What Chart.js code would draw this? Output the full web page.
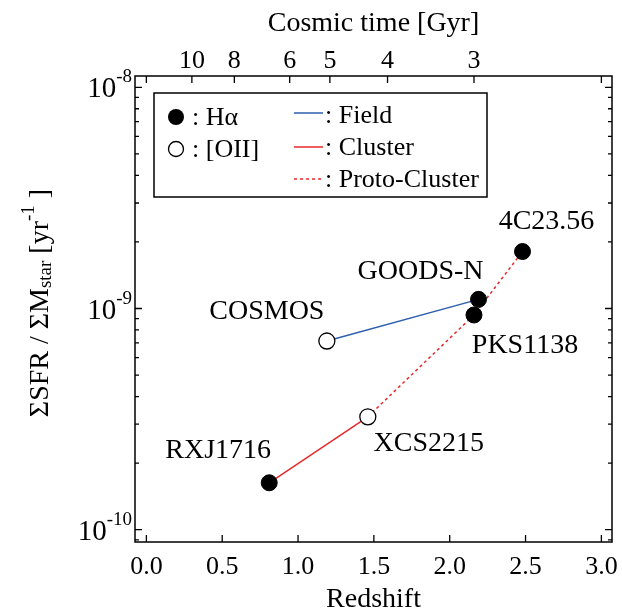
<!DOCTYPE html>
<html>
<head>
<meta charset="utf-8">
<script src="https://cdn.jsdelivr.net/npm/chart.js@4.4.1/dist/chart.umd.min.js"></script>
<style>
  html, body { margin: 0; padding: 0; background: #fff; }
  #wrap { width: 622px; height: 611px; }
</style>
</head>
<body>
<div id="wrap"><canvas id="sfrChart" width="622" height="611"></canvas></div>
<script>
// sources, in order of redshift
const sourceNames = ["RXJ1716", "XCS2215", "COSMOS", "PKS1138", "GOODS-N", "4C23.56"];
const redshifts = [0.81, 1.46, 1.19, 2.16, 2.19, 2.48];
const ssfrValues = [1.63e-10, 3.24e-10, 7.13e-10, 9.35e-10, 1.10e-9, 1.81e-9];
const emissionLines = ["Ha", "OII", "OII", "Ha", "Ha", "Ha"];

// which sources are joined by which line
const fieldMembers = ["COSMOS", "GOODS-N"];
const clusterMembers = ["RXJ1716", "XCS2215"];
const protoClusterMembers = ["XCS2215", "PKS1138", "4C23.56"];

// axes
const redshiftTicks = [0.0, 0.5, 1.0, 1.5, 2.0, 2.5, 3.0];
const cosmicTimeLabels = ["10", "8", "6", "5", "4", "3"];
const cosmicTimeRedshifts = [0.30, 0.58, 0.945, 1.21, 1.59, 2.16];
const ssfrDecades = [-10, -9, -8];

const FONT = "'Liberation Serif', 'Times New Roman', serif";
const BLUE = "#2d5fae";
const RED = "#e8282a";

function pointsFor(names) {
    return names.map(n => {
        const i = sourceNames.indexOf(n);
        return { x: redshifts[i], y: ssfrValues[i] };
    });
}
function pointsByLine(kind) {
    const out = [];
    sourceNames.forEach((n, i) => {
        if (emissionLines[i] === kind) out.push({ x: redshifts[i], y: ssfrValues[i] });
    });
    return out;
}

// label position offsets (pixels) relative to each point
const labelOffsets = {
    "RXJ1716": [-51, -32],
    "XCS2215": [61, 27],
    "COSMOS": [-60, -29],
    "PKS1138": [51, 31],
    "GOODS-N": [-58, -28],
    "4C23.56": [24, -30]
};

function drawText(ctx, parts, x, y) {
    // parts: [text, size, dy]
    let cx = x;
    parts.forEach(p => {
        ctx.font = p[1] + "px " + FONT;
        ctx.fillText(p[0], cx, y + (p[2] || 0));
        cx += ctx.measureText(p[0]).width;
    });
    return cx - x;
}
function measureParts(ctx, parts) {
    let w = 0;
    parts.forEach(p => {
        ctx.font = p[1] + "px " + FONT;
        w += ctx.measureText(p[0]).width;
    });
    return w;
}

const axesPlugin = {
    id: "axesPlugin",
    afterDraw(chart) {
        const ctx = chart.ctx;
        const a = chart.chartArea;
        const xs = chart.scales.x;
        const ys = chart.scales.y;
        ctx.save();
        ctx.strokeStyle = "#000";
        ctx.fillStyle = "#000";
        ctx.lineWidth = 1.5;
        ctx.strokeRect(a.left, a.top, a.right - a.left, a.bottom - a.top);

        ctx.lineWidth = 1.3;
        ctx.beginPath();
        // bottom ticks
        redshiftTicks.forEach(v => {
            const px = xs.getPixelForValue(v);
            ctx.moveTo(px, a.bottom); ctx.lineTo(px, a.bottom - 7);
        });
        // top ticks: cosmic time plus the two ends
        cosmicTimeRedshifts.concat([0, 3]).forEach(v => {
            const px = xs.getPixelForValue(v);
            ctx.moveTo(px, a.top); ctx.lineTo(px, a.top + 7);
        });
        // left/right log ticks
        for (let d = -11; d <= -8; d++) {
            for (let m = 1; m <= 9; m++) {
                const v = m * Math.pow(10, d);
                if (v < ys.min || v > ys.max) continue;
                const py = ys.getPixelForValue(v);
                const len = m === 1 ? 7 : 4;
                ctx.moveTo(a.left, py); ctx.lineTo(a.left + len, py);
                ctx.moveTo(a.right, py); ctx.lineTo(a.right - len, py);
            }
        }
        ctx.stroke();

        // bottom labels
        ctx.textBaseline = "alphabetic";
        ctx.textAlign = "center";
        ctx.font = "26px " + FONT;
        redshiftTicks.forEach(v => {
            ctx.fillText(v.toFixed(1), xs.getPixelForValue(v), a.bottom + 32);
        });
        // top labels
        cosmicTimeRedshifts.forEach((v, i) => {
            ctx.fillText(cosmicTimeLabels[i], xs.getPixelForValue(v), a.top - 8);
        });
        // titles
        ctx.font = "28px " + FONT;
        ctx.fillText("Redshift", (a.left + a.right) / 2, 607);
        ctx.fillText("Cosmic time [Gyr]", (a.left + a.right) / 2, 31);

        // y labels 10^n
        ctx.textAlign = "left";
        ssfrDecades.forEach(d => {
            const py = ys.getPixelForValue(Math.pow(10, d));
            const parts = [["10", 29, 0], [String(d), 19, -15]];
            const w = measureParts(ctx, parts);
            drawText(ctx, parts, a.left - 3 - w, py + 10);
        });

        // y title, rotated
        ctx.save();
        ctx.translate(48, 303);
        ctx.rotate(-Math.PI / 2);
        const tparts = [["\u03A3SFR / \u03A3M", 28, 0], ["star", 19, 3], [" [yr", 28, 0], ["-1", 19, -14], [" ]", 28, 0]];
        const tw = measureParts(ctx, tparts);
        drawText(ctx, tparts, -tw / 2, 0);
        ctx.restore();

        // source labels
        ctx.textAlign = "center";
        ctx.textBaseline = "middle";
        ctx.font = "28px " + FONT;
        sourceNames.forEach((n, i) => {
            const px = xs.getPixelForValue(redshifts[i]);
            const py = ys.getPixelForValue(ssfrValues[i]);
            const off = labelOffsets[n];
            ctx.fillText(n, px + off[0], py + off[1]);
        });

        // legend box
        const lx = 154, ly = 93, lw = 333, lh = 104;
        ctx.lineWidth = 1.5;
        ctx.strokeRect(lx, ly, lw, lh);
        ctx.textAlign = "left";
        ctx.font = "26px " + FONT;
        ctx.beginPath(); ctx.arc(176, 117, 8, 0, Math.PI * 2); ctx.fill();
        ctx.fillText(": H\u03B1", 192, 118);
        ctx.beginPath(); ctx.arc(176, 149, 7.5, 0, Math.PI * 2);
        ctx.fillStyle = "#fff"; ctx.fill();
        ctx.lineWidth = 1.3; ctx.stroke();
        ctx.fillStyle = "#000";
        ctx.fillText(": [OII]", 192, 150);
        ctx.lineWidth = 1.5;
        ctx.strokeStyle = BLUE;
        ctx.beginPath(); ctx.moveTo(294, 113); ctx.lineTo(323, 113); ctx.stroke();
        ctx.strokeStyle = RED;
        ctx.beginPath(); ctx.moveTo(294, 147); ctx.lineTo(323, 147); ctx.stroke();
        ctx.setLineDash([3, 3]);
        ctx.beginPath(); ctx.moveTo(294, 179); ctx.lineTo(323, 179); ctx.stroke();
        ctx.setLineDash([]);
        ctx.fillText(": Field", 325, 116);
        ctx.fillText(": Cluster", 325, 148);
        ctx.fillText(": Proto-Cluster", 325, 180);
        ctx.restore();
    }
};

new Chart(document.getElementById("sfrChart"), {
    type: "scatter",
    data: {
        datasets: [
            {
                label: "H\u03B1",
                data: pointsByLine("Ha"),
                pointRadius: 8,
                pointBackgroundColor: "#000",
                pointBorderColor: "#000",
                pointBorderWidth: 1,
                order: 0
            },
            {
                label: "[OII]",
                data: pointsByLine("OII"),
                pointRadius: 8,
                pointBackgroundColor: "#fff",
                pointBorderColor: "#000",
                pointBorderWidth: 1.3,
                order: 1
            },
            {
                label: "Field",
                data: pointsFor(fieldMembers),
                showLine: true,
                borderColor: BLUE,
                borderWidth: 1.5,
                pointRadius: 0,
                order: 2
            },
            {
                label: "Cluster",
                data: pointsFor(clusterMembers),
                showLine: true,
                borderColor: RED,
                borderWidth: 1.5,
                pointRadius: 0,
                order: 3
            },
            {
                label: "Proto-Cluster",
                data: pointsFor(protoClusterMembers),
                showLine: true,
                borderColor: RED,
                borderWidth: 1.5,
                borderDash: [3, 3],
                pointRadius: 0,
                order: 4
            }
        ]
    },
    options: {
        responsive: false,
        animation: false,
        layout: { padding: { left: 135, right: 10, top: 76, bottom: 69 } },
        plugins: { legend: { display: false }, tooltip: { enabled: false } },
        scales: {
            x: { type: "linear", min: -0.075, max: 3.07, display: false },
            y: { type: "logarithmic", min: 8.8e-11, max: 1.125e-8, display: false }
        }
    },
    plugins: [axesPlugin]
});
</script>
</body>
</html>
